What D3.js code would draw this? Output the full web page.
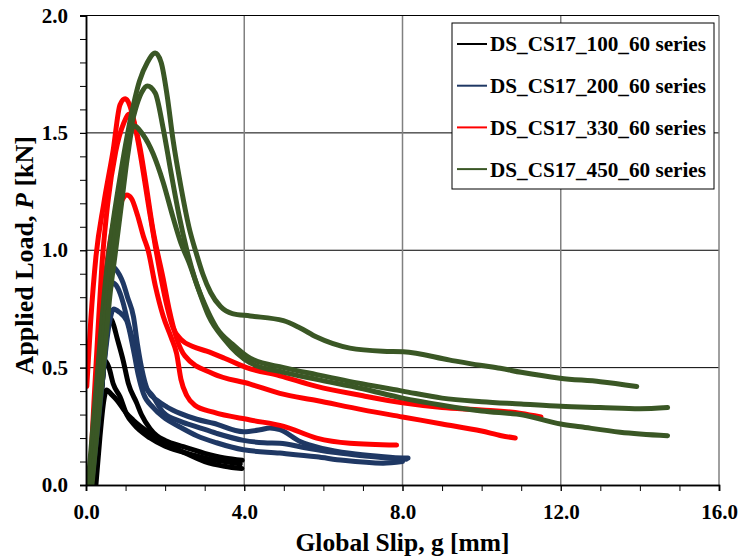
<!DOCTYPE html>
<html><head><meta charset="utf-8">
<script src="https://cdn.jsdelivr.net/npm/d3@7"></script>
<style>body{margin:0;background:#fff}svg{display:block}text{font-family:"Liberation Serif","Times New Roman",serif;font-weight:bold}</style>
</head><body><svg id="c" width="740" height="560"></svg>
<script>
const xMajorTicks = [0, 4, 8, 12, 16];
const yMajorTicks = [0, 0.5, 1.0, 1.5, 2.0];
const seriesNames = ["DS_CS17_100_60 series", "DS_CS17_200_60 series", "DS_CS17_330_60 series", "DS_CS17_450_60 series"];

// 100 series (black)
const k1 = [[0.2,0],[0.3,0.2],[0.42,0.45],[0.52,0.63],[0.61,0.71],[0.7,0.68],[0.78,0.63],[0.94,0.53],[1.07,0.433],[1.28,0.35],[1.4,0.3],[1.62,0.24],[1.79,0.21],[2.0,0.19],[2.46,0.163],[3.0,0.135],[3.5,0.115],[3.95,0.105]];
const k2 = [[0.22,0],[0.32,0.25],[0.42,0.45],[0.48,0.53],[0.58,0.5],[0.69,0.43],[0.86,0.376],[1.03,0.3],[1.2,0.26],[1.62,0.2],[2.0,0.165],[2.46,0.14],[3.0,0.115],[3.5,0.1],[3.9,0.09]];
const k3 = [[0.25,0],[0.35,0.2],[0.45,0.36],[0.52,0.405],[0.65,0.385],[0.78,0.362],[1.0,0.31],[1.19,0.277],[1.62,0.22],[2.0,0.18],[2.46,0.14],[3.0,0.1],[3.5,0.08],[3.94,0.07]];
// 200 series (blue)
const b1 = [[0.1,0.02],[0.2,0.2],[0.3,0.45],[0.42,0.7],[0.52,0.86],[0.62,0.935],[0.75,0.92],[0.94,0.86],[1.05,0.8],[1.2,0.717],[1.3,0.6],[1.37,0.53],[1.57,0.4],[1.8,0.36],[2.04,0.333],[2.38,0.305],[2.8,0.28],[3.22,0.263],[3.98,0.227],[4.4,0.235],[4.65,0.243],[4.9,0.236],[5.41,0.185],[6.0,0.155],[6.67,0.135],[7.4,0.122],[8.02,0.115],[8.14,0.115]];
const b2 = [[0.12,0.02],[0.25,0.25],[0.38,0.5],[0.5,0.72],[0.6,0.83],[0.68,0.86],[0.8,0.84],[0.94,0.775],[1.05,0.7],[1.2,0.604],[1.37,0.46],[1.7,0.376],[1.95,0.31],[2.4,0.27],[2.8,0.248],[3.3,0.22],[3.98,0.19],[4.5,0.18],[4.9,0.178],[5.5,0.16],[6.2,0.14],[7.0,0.125],[7.6,0.115],[8.1,0.11]];
const b3 = [[0.15,0.02],[0.3,0.25],[0.45,0.5],[0.58,0.68],[0.7,0.75],[0.85,0.735],[1.03,0.7],[1.2,0.575],[1.32,0.47],[1.45,0.39],[1.7,0.33],[1.95,0.29],[2.4,0.245],[2.8,0.21],[3.3,0.18],[3.98,0.15],[4.9,0.136],[5.83,0.12],[6.5,0.105],[7.51,0.093],[8.0,0.1]];
// 330 series (red)
const r1 = [[0.02,0.42],[0.12,0.7],[0.25,0.97],[0.45,1.2],[0.69,1.43],[0.86,1.62],[0.99,1.645],[1.1,1.62],[1.2,1.56],[1.32,1.46],[1.45,1.33],[1.6,1.17],[1.75,1.02],[1.9,0.88],[2.05,0.76],[2.2,0.67],[2.4,0.62],[2.7,0.59],[3.05,0.57],[3.5,0.54],[4.06,0.5],[4.9,0.465],[5.83,0.42],[7.0,0.38],[8.0,0.35],[9.0,0.33],[10.0,0.32],[11.0,0.305],[11.5,0.29]];
const r2 = [[0.1,0.02],[0.2,0.35],[0.3,0.65],[0.4,0.93],[0.55,1.2],[0.75,1.42],[0.95,1.54],[1.1,1.58],[1.2,1.55],[1.35,1.45],[1.5,1.3],[1.7,1.08],[1.95,0.88],[2.1,0.75],[2.3,0.62],[2.5,0.55],[3.2,0.475],[4.15,0.43],[4.9,0.39],[5.83,0.36],[7.0,0.32],[8.0,0.29],[9.0,0.26],[10.0,0.23],[10.5,0.21],[10.85,0.2]];
const r3 = [[0.15,0.02],[0.25,0.3],[0.35,0.6],[0.5,0.9],[0.7,1.12],[0.9,1.21],[1.03,1.235],[1.15,1.22],[1.3,1.15],[1.45,1.06],[1.57,1.0],[1.75,0.85],[1.95,0.72],[2.15,0.63],[2.29,0.56],[2.4,0.45],[2.55,0.38],[2.75,0.34],[3.22,0.31],[4.15,0.277],[5.0,0.25],[5.83,0.2],[6.67,0.178],[7.85,0.17]];
// 450 series (green)
const g1 = [[0.05,0],[0.2,0.3],[0.35,0.6],[0.5,0.88],[0.65,1.08],[0.85,1.3],[1.0,1.45],[1.2,1.62],[1.35,1.72],[1.55,1.8],[1.75,1.84],[1.9,1.8],[2.05,1.66],[2.2,1.47],[2.4,1.27],[2.6,1.1],[2.8,0.98],[2.95,0.9],[3.15,0.82],[3.4,0.76],[3.7,0.73],[4.15,0.72],[4.99,0.7],[5.4,0.67],[5.83,0.63],[6.67,0.583],[7.5,0.57],[8.02,0.568],[9.2,0.532],[9.96,0.51],[10.47,0.497],[11.0,0.48],[11.98,0.455],[13.0,0.44],[13.92,0.42]];
const g2 = [[0.1,0],[0.25,0.28],[0.4,0.55],[0.55,0.83],[0.7,1.03],[0.85,1.22],[1.05,1.45],[1.25,1.6],[1.4,1.67],[1.55,1.7],[1.75,1.67],[1.95,1.52],[2.15,1.33],[2.35,1.15],[2.55,1.0],[2.75,0.88],[3.0,0.77],[3.3,0.67],[3.7,0.6],[4.15,0.54],[5.0,0.5],[5.83,0.47],[7.0,0.43],[8.0,0.4],[9.0,0.37],[10.0,0.355],[11.0,0.345],[12.0,0.335],[13.0,0.33],[14.0,0.325],[14.7,0.33]];
const g3 = [[0.15,0],[0.3,0.26],[0.45,0.52],[0.6,0.8],[0.75,1.0],[0.9,1.2],[1.05,1.4],[1.2,1.53],[1.45,1.49],[1.7,1.41],[1.95,1.29],[2.2,1.14],[2.4,1.03],[2.6,0.95],[2.85,0.83],[3.1,0.72],[3.5,0.62],[4.15,0.52],[5.0,0.48],[5.83,0.45],[7.0,0.41],[8.0,0.37],[9.0,0.34],[10.0,0.315],[11.05,0.298],[12.0,0.26],[12.5,0.248],[13.5,0.225],[14.7,0.21]];

const seriesCurves = [[k1,k2,k3],[b1,b2,b3],[r1,r2,r3],[g1,g2,g3]];
const colors = ["#000000","#1f3864","#ff0000","#3a5725"];

const svg = d3.select("#c");
const L = 86, R = 719, T = 15.5, B = 485;
const x = d3.scaleLinear().domain([0,16]).range([L,R]);
const y = d3.scaleLinear().domain([0,2]).range([B,T]);

svg.append("defs").append("clipPath").attr("id","clip").append("rect")
  .attr("x",L).attr("y",T).attr("width",R-L).attr("height",B-T);

// gridlines
svg.append("g").selectAll("line").data(yMajorTicks.filter(v=>v>0&&v<2)).join("line")
  .attr("x1",L).attr("x2",R).attr("y1",d=>y(d)).attr("y2",d=>y(d))
  .attr("stroke","#000").attr("stroke-width",1);
svg.append("g").selectAll("line").data(xMajorTicks.filter(v=>v>0&&v<16)).join("line")
  .attr("y1",T).attr("y2",B).attr("x1",d=>x(d)).attr("x2",d=>x(d))
  .attr("stroke","#808080").attr("stroke-width",1.5);
// frame top/right
svg.append("line").attr("x1",L).attr("x2",R).attr("y1",T).attr("y2",T).attr("stroke","#000");
svg.append("line").attr("x1",R).attr("x2",R).attr("y1",T).attr("y2",B).attr("stroke","#808080").attr("stroke-width",1.5);

// curves
const line = d3.line().x(d=>x(d[0])).y(d=>y(d[1])).curve(d3.curveMonotoneX);
const gc = svg.append("g").attr("clip-path","url(#clip)");
seriesCurves.forEach((curves,i)=>{
  curves.forEach(c=>{
    gc.append("path").datum(c).attr("d",line).attr("fill","none")
      .attr("stroke",colors[i]).attr("stroke-width",5).attr("stroke-linejoin","round").attr("stroke-linecap","round");
  });
});

// axes
const fmt = d3.format(".1f");
const xMinor = svg.append("g").attr("transform",`translate(0,${B})`)
  .call(d3.axisBottom(x).tickValues(d3.range(0,17,1)).tickSize(6).tickFormat(""));
const xMaj = svg.append("g").attr("transform",`translate(0,${B})`)
  .call(d3.axisBottom(x).tickValues(xMajorTicks).tickSize(6).tickPadding(13).tickFormat(fmt));
const yMinor = svg.append("g").attr("transform",`translate(${L},0)`)
  .call(d3.axisLeft(y).tickValues(d3.range(0,21,1).map(v=>v/10)).tickSize(6).tickFormat(""));
const yMaj = svg.append("g").attr("transform",`translate(${L},0)`)
  .call(d3.axisLeft(y).tickValues(yMajorTicks).tickSize(6).tickPadding(12).tickFormat(fmt));
[xMinor,xMaj,yMinor,yMaj].forEach(g=>{
  g.select(".domain").attr("stroke","#000").attr("stroke-width",1.5);
  g.selectAll(".tick line").attr("stroke","#000");
  g.selectAll("text").attr("font-size",21).attr("fill","#000")
    .attr("font-family",'"Liberation Serif","Times New Roman",serif').attr("font-weight","bold");
});

// axis titles
svg.append("text").attr("x",(L+R)/2).attr("y",551).attr("text-anchor","middle")
  .attr("font-size",25.5).text("Global Slip, g [mm]");
const yt = svg.append("text").attr("transform",`translate(33,${(T+B)/2+5}) rotate(-90)`)
  .attr("text-anchor","middle").attr("font-size",26);
yt.append("tspan").text("Applied Load, ");
yt.append("tspan").attr("font-style","italic").text("P");
yt.append("tspan").text(" [kN]");

// legend
const lg = svg.append("g");
lg.append("rect").attr("x",452).attr("y",23).attr("width",262).attr("height",166)
  .attr("fill","#fff").attr("stroke","#000").attr("stroke-width",1);
seriesNames.forEach((n,i)=>{
  const yy = 44 + i*41.7;
  lg.append("line").attr("x1",457).attr("x2",487).attr("y1",yy).attr("y2",yy)
    .attr("stroke",colors[i]).attr("stroke-width",2);
  lg.append("text").attr("x",490).attr("y",yy).attr("dy","0.35em").attr("font-size",21.2).text(n);
});
</script></body></html>
